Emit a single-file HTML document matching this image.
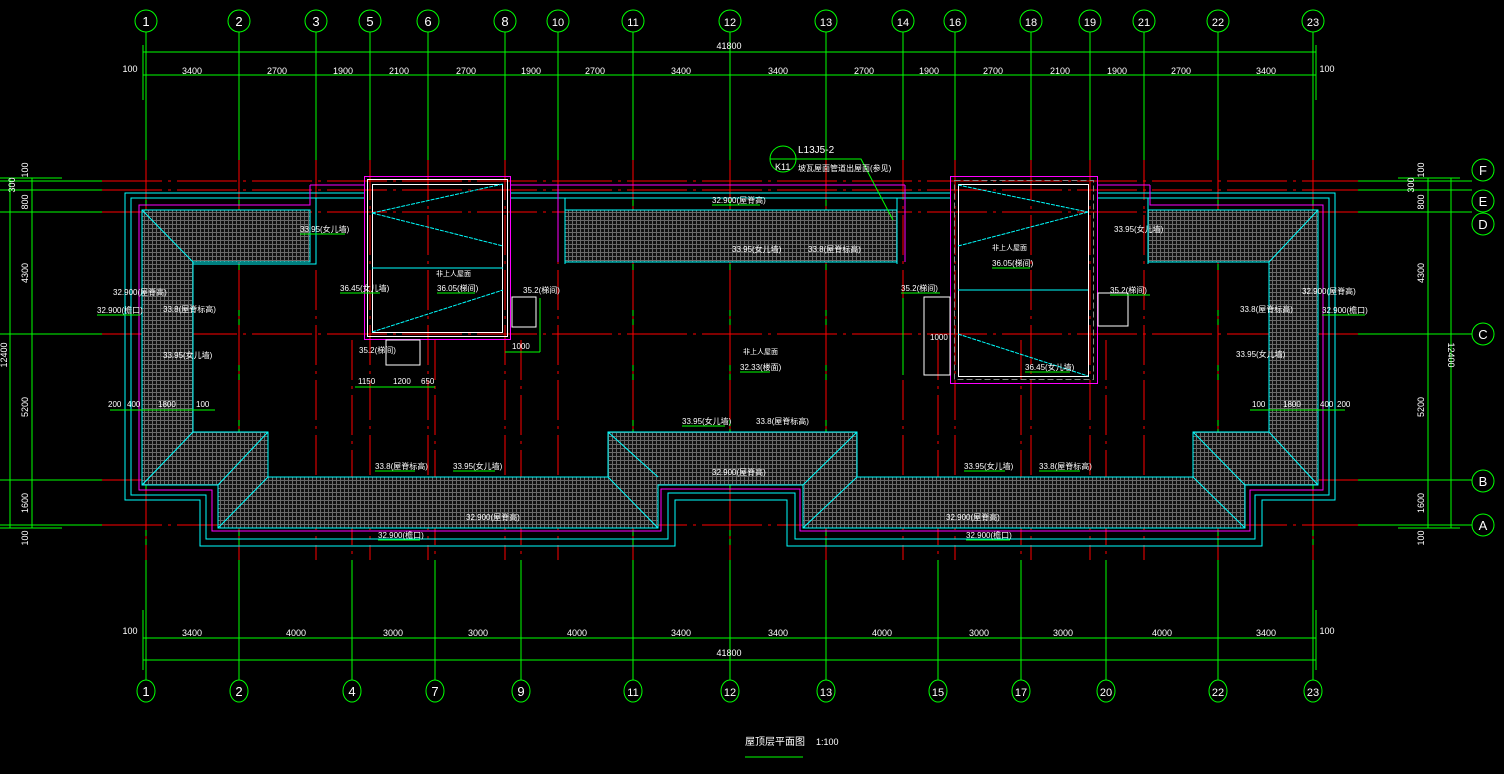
<!DOCTYPE html>
<html><head><meta charset="utf-8"><style>
html,body{margin:0;padding:0;background:#000;}
svg{display:block;}
text{font-family:"Liberation Sans","Noto Sans CJK SC",sans-serif;fill:#fff;}
</style></head><body>
<svg width="1504" height="774" viewBox="0 0 1504 774" xmlns="http://www.w3.org/2000/svg">
<defs>
<pattern id="h" width="4" height="4" patternUnits="userSpaceOnUse">
<rect width="4" height="4" fill="#111"/>
<path d="M0 0.5H4M0.5 0V4" stroke="#6a6a6a" stroke-width="1"/>
</pattern>
</defs>
<rect width="1504" height="774" fill="#000"/>

<g stroke-width="1">
<g stroke="#0f0">
<line x1="0" y1="181" x2="102" y2="181"/><line x1="0" y1="190" x2="102" y2="190"/><line x1="0" y1="212" x2="102" y2="212"/>
<line x1="0" y1="334" x2="102" y2="334"/><line x1="0" y1="480" x2="102" y2="480"/><line x1="0" y1="525" x2="102" y2="525"/>
<line x1="1358" y1="181" x2="1472" y2="181"/><line x1="1358" y1="190" x2="1472" y2="190"/><line x1="1358" y1="212" x2="1472" y2="212"/>
<line x1="1358" y1="334" x2="1472" y2="334"/><line x1="1358" y1="480" x2="1472" y2="480"/><line x1="1358" y1="525" x2="1472" y2="525"/>
</g>
<g stroke="#f00" stroke-dasharray="60 6 3 6">
<line x1="102" y1="181" x2="1358" y2="181"/><line x1="102" y1="190" x2="1358" y2="190"/><line x1="102" y1="212" x2="1358" y2="212"/>
<line x1="102" y1="334" x2="1358" y2="334"/><line x1="102" y1="480" x2="1358" y2="480"/><line x1="102" y1="525" x2="1358" y2="525"/>
</g>
</g>

<g stroke="#0f0" stroke-width="1">
<line x1="146" y1="32" x2="146" y2="680"/><line x1="239" y1="32" x2="239" y2="680"/><line x1="316" y1="32" x2="316" y2="160"/>
<line x1="370" y1="32" x2="370" y2="160"/><line x1="428" y1="32" x2="428" y2="160"/><line x1="505" y1="32" x2="505" y2="160"/>
<line x1="558" y1="32" x2="558" y2="160"/><line x1="633" y1="32" x2="633" y2="680"/><line x1="730" y1="32" x2="730" y2="680"/>
<line x1="826" y1="32" x2="826" y2="680"/><line x1="903" y1="32" x2="903" y2="160"/><line x1="955" y1="32" x2="955" y2="160"/>
<line x1="1031" y1="32" x2="1031" y2="160"/><line x1="1090" y1="32" x2="1090" y2="160"/><line x1="1144" y1="32" x2="1144" y2="160"/>
<line x1="1218" y1="32" x2="1218" y2="680"/><line x1="1313" y1="32" x2="1313" y2="680"/>
<line x1="352" y1="560" x2="352" y2="680"/><line x1="435" y1="560" x2="435" y2="680"/><line x1="521" y1="560" x2="521" y2="680"/>
<line x1="938" y1="560" x2="938" y2="680"/><line x1="1021" y1="560" x2="1021" y2="680"/><line x1="1106" y1="560" x2="1106" y2="680"/>
</g>
<g stroke="#f00" stroke-width="1" stroke-dasharray="40 6 3 6">
<line x1="146" y1="160" x2="146" y2="560"/><line x1="239" y1="160" x2="239" y2="560"/><line x1="316" y1="160" x2="316" y2="560"/>
<line x1="370" y1="160" x2="370" y2="560"/><line x1="428" y1="160" x2="428" y2="560"/><line x1="505" y1="160" x2="505" y2="560"/>
<line x1="558" y1="160" x2="558" y2="560"/><line x1="633" y1="160" x2="633" y2="560"/><line x1="730" y1="160" x2="730" y2="560"/>
<line x1="826" y1="160" x2="826" y2="560"/><line x1="903" y1="160" x2="903" y2="560"/><line x1="955" y1="160" x2="955" y2="560"/>
<line x1="1031" y1="160" x2="1031" y2="560"/><line x1="1090" y1="160" x2="1090" y2="560"/><line x1="1144" y1="160" x2="1144" y2="560"/>
<line x1="1218" y1="160" x2="1218" y2="560"/><line x1="1313" y1="160" x2="1313" y2="560"/>
<line x1="352" y1="340" x2="352" y2="560"/><line x1="435" y1="340" x2="435" y2="560"/><line x1="521" y1="340" x2="521" y2="560"/>
<line x1="938" y1="340" x2="938" y2="560"/><line x1="1021" y1="340" x2="1021" y2="560"/><line x1="1106" y1="340" x2="1106" y2="560"/>
</g>

<g fill="url(#h)" stroke="#0ff" stroke-width="1">
<polygon points="142,210 310,210 310,262 193,262 193,432 268,432 268,477 608,477 608,432 857,432 857,477 1193,477 1193,432 1269,432 1269,262 1148,262 1148,210 1318,210 1318,485 1245,485 1245,528 803,528 803,485 658,485 658,528 218,528 218,485 142,485"/>
<rect x="565" y="210" width="332" height="52"/>
</g>
<g stroke="#0ff" stroke-width="1" fill="none">
<line x1="142" y1="210" x2="193" y2="262"/><line x1="142" y1="485" x2="193" y2="432"/>
<line x1="218" y1="528" x2="268" y2="477"/><line x1="218" y1="485" x2="268" y2="432"/>
<line x1="608" y1="432" x2="658" y2="477"/><line x1="857" y1="432" x2="803" y2="485"/>
<line x1="658" y1="528" x2="608" y2="477"/><line x1="803" y1="528" x2="857" y2="477"/>
<line x1="1318" y1="210" x2="1269" y2="262"/><line x1="1318" y1="485" x2="1269" y2="432"/>
<line x1="1245" y1="528" x2="1193" y2="477"/><line x1="1245" y1="485" x2="1193" y2="432"/>
<line x1="565" y1="210" x2="565" y2="262"/>
<polyline points="365,193 125,193 125,500 200,500 200,546 675,546 675,500 787,500 787,546 1262,546 1262,500 1335,500 1335,193 1098,193"/>
<polyline points="365,198 131,198 131,495 206,495 206,539 668,539 668,493 795,493 795,539 1255,539 1255,495 1329,495 1329,198 1098,198"/>
<line x1="511" y1="193" x2="950" y2="193"/><line x1="511" y1="198" x2="950" y2="198"/>
<polyline points="316,198 316,264 193,264"/><polyline points="565,198 565,264"/>
<polyline points="897,198 897,264"/><polyline points="1148,198 1148,264"/>
</g>
<g stroke="#f0f" stroke-width="1" fill="none">
<polyline points="310,185 310,205 139,205 139,490 212,490 212,531 661,531 661,489 800,489 800,531 1250,531 1250,490 1323,490 1323,205 1150,205 1150,185"/>
<polyline points="558,185 905,185"/>
<line x1="558" y1="185" x2="558" y2="262"/><line x1="905" y1="185" x2="905" y2="262"/>
<line x1="511" y1="185" x2="565" y2="185"/><line x1="310" y1="185" x2="364" y2="185"/><line x1="1097" y1="185" x2="1150" y2="185"/>
</g>

<g fill="none">
<rect x="364.5" y="176.5" width="146" height="163" stroke="#f0f"/>
<rect x="367.5" y="179.5" width="140" height="157" stroke="#fff"/>
<rect x="372.5" y="184.5" width="130" height="148" stroke="#fff"/>
<line x1="372" y1="268" x2="503" y2="268" stroke="#0ff"/>
<polyline points="372,213 503,184" stroke="#0ff" stroke-dasharray="4 1"/>
<polyline points="372,213 503,246" stroke="#0ff" stroke-dasharray="4 1"/>
<polyline points="372,332 503,290" stroke="#0ff" stroke-dasharray="4 1"/>
<rect x="950.5" y="176.5" width="147" height="207" stroke="#f0f"/>
<rect x="954.5" y="180.5" width="139" height="199" stroke="#888" stroke-dasharray="6 3"/>
<rect x="958.5" y="184.5" width="130" height="192" stroke="#fff"/>
<line x1="958" y1="290" x2="1088" y2="290" stroke="#0ff"/>
<polyline points="958,185 1088,212" stroke="#0ff" stroke-dasharray="4 1"/>
<polyline points="958,246 1088,212" stroke="#0ff" stroke-dasharray="4 1"/>
<polyline points="958,334 1088,376" stroke="#0ff" stroke-dasharray="4 1"/>
<rect x="512" y="297" width="24" height="30" stroke="#fff"/>
<rect x="386" y="340" width="34" height="25" stroke="#fff"/>
<rect x="924" y="297" width="26" height="78" stroke="#fff"/>
<rect x="1098" y="293" width="30" height="33" stroke="#fff"/>
</g>

<g stroke="#0f0" stroke-width="1">
<line x1="143" y1="52" x2="1316" y2="52"/><line x1="143" y1="75" x2="1316" y2="75"/>
<line x1="143" y1="638" x2="1316" y2="638"/><line x1="143" y1="660" x2="1316" y2="660"/>
<line x1="143" y1="45" x2="143" y2="100"/><line x1="1316" y1="45" x2="1316" y2="100"/>
<line x1="143" y1="610" x2="143" y2="670"/><line x1="1316" y1="610" x2="1316" y2="670"/>
<line x1="10" y1="178" x2="10" y2="528"/><line x1="32" y1="178" x2="32" y2="528"/>
<line x1="0" y1="178" x2="62" y2="178"/><line x1="0" y1="528" x2="62" y2="528"/>
<line x1="1428" y1="178" x2="1428" y2="528"/><line x1="1451" y1="178" x2="1451" y2="528"/>
<line x1="1398" y1="178" x2="1460" y2="178"/><line x1="1398" y1="528" x2="1460" y2="528"/>
</g>

<g fill="none" stroke="#0f0" stroke-width="1">
<circle cx="146" cy="21" r="11"/><circle cx="239" cy="21" r="11"/><circle cx="316" cy="21" r="11"/><circle cx="370" cy="21" r="11"/>
<circle cx="428" cy="21" r="11"/><circle cx="505" cy="21" r="11"/><circle cx="558" cy="21" r="11"/><circle cx="633" cy="21" r="11"/>
<circle cx="730" cy="21" r="11"/><circle cx="826" cy="21" r="11"/><circle cx="903" cy="21" r="11"/><circle cx="955" cy="21" r="11"/>
<circle cx="1031" cy="21" r="11"/><circle cx="1090" cy="21" r="11"/><circle cx="1144" cy="21" r="11"/><circle cx="1218" cy="21" r="11"/><circle cx="1313" cy="21" r="11"/>
<ellipse cx="146" cy="691" rx="9" ry="11"/><ellipse cx="239" cy="691" rx="9" ry="11"/><ellipse cx="352" cy="691" rx="9" ry="11"/><ellipse cx="435" cy="691" rx="9" ry="11"/>
<ellipse cx="521" cy="691" rx="9" ry="11"/><ellipse cx="633" cy="691" rx="9" ry="11"/><ellipse cx="730" cy="691" rx="9" ry="11"/><ellipse cx="826" cy="691" rx="9" ry="11"/>
<ellipse cx="938" cy="691" rx="9" ry="11"/><ellipse cx="1021" cy="691" rx="9" ry="11"/><ellipse cx="1106" cy="691" rx="9" ry="11"/><ellipse cx="1218" cy="691" rx="9" ry="11"/><ellipse cx="1313" cy="691" rx="9" ry="11"/>
<circle cx="1483" cy="170" r="11"/><circle cx="1483" cy="201" r="11"/><circle cx="1483" cy="224" r="11"/>
<circle cx="1483" cy="334" r="11"/><circle cx="1483" cy="481" r="11"/><circle cx="1483" cy="525" r="11"/>
<circle cx="783" cy="159" r="13"/><line x1="770" y1="159" x2="796" y2="159"/>
<polyline points="796,159 861,159 893,220"/>
</g>
<g font-size="13" text-anchor="middle">
<text x="146" y="26">1</text><text x="239" y="26">2</text><text x="316" y="26">3</text><text x="370" y="26">5</text>
<text x="428" y="26">6</text><text x="505" y="26">8</text><text x="558" y="26" font-size="11">10</text><text x="633" y="26" font-size="11">11</text>
<text x="730" y="26" font-size="11">12</text><text x="826" y="26" font-size="11">13</text><text x="903" y="26" font-size="11">14</text><text x="955" y="26" font-size="11">16</text>
<text x="1031" y="26" font-size="11">18</text><text x="1090" y="26" font-size="11">19</text><text x="1144" y="26" font-size="11">21</text><text x="1218" y="26" font-size="11">22</text><text x="1313" y="26" font-size="11">23</text>
<text x="146" y="696">1</text><text x="239" y="696">2</text><text x="352" y="696">4</text><text x="435" y="696">7</text>
<text x="521" y="696">9</text><text x="633" y="696" font-size="11">11</text><text x="730" y="696" font-size="11">12</text><text x="826" y="696" font-size="11">13</text>
<text x="938" y="696" font-size="11">15</text><text x="1021" y="696" font-size="11">17</text><text x="1106" y="696" font-size="11">20</text><text x="1218" y="696" font-size="11">22</text><text x="1313" y="696" font-size="11">23</text>
<text x="1483" y="175">F</text><text x="1483" y="206">E</text><text x="1483" y="229">D</text>
<text x="1483" y="339">C</text><text x="1483" y="486">B</text><text x="1483" y="530">A</text>
</g>

<g font-size="9" text-anchor="middle">
<text x="729" y="49">41800</text>
<text x="130" y="72">100</text><text x="1327" y="72">100</text>
<text x="192" y="74">3400</text><text x="277" y="74">2700</text><text x="343" y="74">1900</text><text x="399" y="74">2100</text>
<text x="466" y="74">2700</text><text x="531" y="74">1900</text><text x="595" y="74">2700</text><text x="681" y="74">3400</text>
<text x="778" y="74">3400</text><text x="864" y="74">2700</text><text x="929" y="74">1900</text><text x="993" y="74">2700</text>
<text x="1060" y="74">2100</text><text x="1117" y="74">1900</text><text x="1181" y="74">2700</text><text x="1266" y="74">3400</text>
<text x="130" y="634">100</text><text x="1327" y="634">100</text>
<text x="192" y="636">3400</text><text x="296" y="636">4000</text><text x="393" y="636">3000</text><text x="478" y="636">3000</text>
<text x="577" y="636">4000</text><text x="681" y="636">3400</text><text x="778" y="636">3400</text><text x="882" y="636">4000</text>
<text x="979" y="636">3000</text><text x="1063" y="636">3000</text><text x="1162" y="636">4000</text><text x="1266" y="636">3400</text>
<text x="729" y="656">41800</text>
</g>
<g font-size="9" text-anchor="middle">
<text transform="translate(28,170) rotate(-90)">100</text><text transform="translate(15,185) rotate(-90)">300</text>
<text transform="translate(28,202) rotate(-90)">800</text><text transform="translate(28,273) rotate(-90)">4300</text>
<text transform="translate(7,355) rotate(-90)">12400</text><text transform="translate(28,407) rotate(-90)">5200</text>
<text transform="translate(28,503) rotate(-90)">1600</text><text transform="translate(28,538) rotate(-90)">100</text>
<text transform="translate(1424,170) rotate(-90)">100</text><text transform="translate(1414,185) rotate(-90)">300</text>
<text transform="translate(1424,202) rotate(-90)">800</text><text transform="translate(1424,273) rotate(-90)">4300</text>
<text transform="translate(1448,355) rotate(90)">12400</text><text transform="translate(1424,407) rotate(-90)">5200</text>
<text transform="translate(1424,503) rotate(-90)">1600</text><text transform="translate(1424,538) rotate(-90)">100</text>
</g>

<g font-size="8">
<text x="300" y="232">33.95(女儿墙)</text>
<text x="113" y="295">32.900(屋脊高)</text><text x="97" y="313">32.900(檐口)</text>
<text x="163" y="312">33.8(屋脊标高)</text><text x="163" y="358">33.95(女儿墙)</text>
<text x="340" y="291">36.45(女儿墙)</text><text x="437" y="291">36.05(梯间)</text>
<text x="523" y="293">35.2(梯间)</text><text x="359" y="353">35.2(梯间)</text>
<text x="712" y="203">32.900(屋脊高)</text><text x="732" y="252">33.95(女儿墙)</text><text x="808" y="252">33.8(屋脊标高)</text>
<text x="740" y="370">32.33(楼面)</text>
<text x="901" y="291">35.2(梯间)</text><text x="992" y="266">36.05(梯间)</text><text x="1025" y="370">36.45(女儿墙)</text>
<text x="1110" y="293">35.2(梯间)</text><text x="1114" y="232">33.95(女儿墙)</text>
<text x="1302" y="294">32.900(屋脊高)</text><text x="1322" y="313">32.900(檐口)</text>
<text x="1240" y="312">33.8(屋脊标高)</text><text x="1236" y="357">33.95(女儿墙)</text>
<text x="682" y="424">33.95(女儿墙)</text><text x="756" y="424">33.8(屋脊标高)</text>
<text x="375" y="469">33.8(屋脊标高)</text><text x="453" y="469">33.95(女儿墙)</text>
<text x="964" y="469">33.95(女儿墙)</text><text x="1039" y="469">33.8(屋脊标高)</text>
<text x="466" y="520">32.900(屋脊高)</text><text x="378" y="538">32.900(檐口)</text>
<text x="712" y="475">32.900(屋脊高)</text>
<text x="946" y="520">32.900(屋脊高)</text><text x="966" y="538">32.900(檐口)</text>
<text x="108" y="407">200</text><text x="127" y="407">400</text><text x="158" y="407">1800</text><text x="196" y="407">100</text>
<text x="1252" y="407">100</text><text x="1283" y="407">1800</text><text x="1320" y="407">400</text><text x="1337" y="407">200</text>
<text x="358" y="384">1150</text><text x="393" y="384">1200</text><text x="421" y="384">650</text>
<text x="512" y="349">1000</text><text x="930" y="340">1000</text>
<text x="743" y="354" font-size="7">非上人屋面</text>
<text x="992" y="250" font-size="7">非上人屋面</text>
<text x="436" y="276" font-size="7">非上人屋面</text>
</g>
<g stroke="#0f0" stroke-width="1">
<line x1="300" y1="234" x2="345" y2="234"/><line x1="97" y1="315" x2="140" y2="315"/><line x1="340" y1="293" x2="380" y2="293"/>
<line x1="437" y1="293" x2="475" y2="293"/><line x1="712" y1="205" x2="760" y2="205"/><line x1="740" y1="372" x2="770" y2="372"/>
<line x1="992" y1="268" x2="1030" y2="268"/><line x1="1025" y1="372" x2="1070" y2="372"/><line x1="1322" y1="315" x2="1365" y2="315"/>
<line x1="682" y1="426" x2="725" y2="426"/><line x1="378" y1="540" x2="420" y2="540"/><line x1="966" y1="540" x2="1010" y2="540"/>
<line x1="375" y1="471" x2="415" y2="471"/><line x1="453" y1="471" x2="495" y2="471"/><line x1="964" y1="471" x2="1005" y2="471"/>
<line x1="1039" y1="471" x2="1080" y2="471"/><line x1="1110" y1="295" x2="1150" y2="295"/><line x1="901" y1="293" x2="940" y2="293"/>
<line x1="110" y1="410" x2="215" y2="410"/><line x1="1250" y1="410" x2="1345" y2="410"/>
<line x1="355" y1="387" x2="435" y2="387"/><line x1="505" y1="352" x2="540" y2="352"/>
<line x1="903" y1="298" x2="903" y2="375"/><line x1="540" y1="298" x2="540" y2="352"/>
</g>

<text x="798" y="153" font-size="10">L13J5-2</text>
<text x="775" y="170" font-size="9">K11</text>
<text x="798" y="171" font-size="8">坡瓦屋面管道出屋面(参见)</text>

<text x="745" y="745" font-size="10">屋顶层平面图</text>
<text x="816" y="745" font-size="9">1:100</text>
<line x1="745" y1="757" x2="803" y2="757" stroke="#0f0" stroke-width="1"/>
</svg>
</body></html>
